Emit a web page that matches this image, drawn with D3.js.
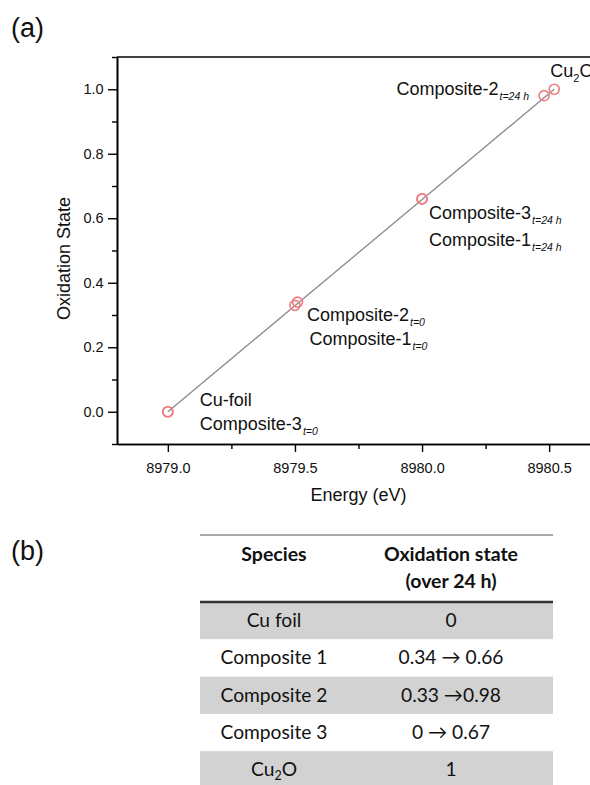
<!DOCTYPE html>
<html>
<head>
<meta charset="utf-8">
<script src="https://cdn.jsdelivr.net/npm/d3@7"></script>
<style>
  body { margin: 0; background: #fff; }
  svg { display: block; }
</style>
</head>
<body>
<div class="chart"></div>
<script>
// Points on the calibration line (energy vs. oxidation state)
var pointNames = ["Cu-foil", "Composite-3 t=0", "Composite-2 t=0", "Composite-1 t=0",
    "Composite-3 t=24 h", "Composite-1 t=24 h", "Composite-2 t=24 h", "Cu2O"];
var energies = [8979.0, 8979.0, 8979.5, 8979.51, 8980.0, 8980.0, 8980.48, 8980.52];
var oxStates = [0.0, 0.0, 0.33, 0.34, 0.66, 0.66, 0.98, 1.0];

// Linear fit drawn through the points
var fitEnergy = [8979.0, 8980.52];
var fitState = [0.0, 1.0];

// Axis ticks
var xMajorTicks = [8979.0, 8979.5, 8980.0, 8980.5];
var xMinorTicks = [8979.25, 8979.75, 8980.25];
var yMajorTicks = [0.0, 0.2, 0.4, 0.6, 0.8, 1.0];
var yMinorTicks = [-0.1, 0.1, 0.3, 0.5, 0.7, 0.9, 1.1];

// Table (b)
var tableHeader = [["Species"], ["Oxidation state", "(over 24 h)"]];
var tableSpecies = ["Cu foil", "Composite 1", "Composite 2", "Composite 3", "Cu|2|O"];
var tableStates = ["0", "0.34 \u2192 0.66", "0.33 \u21920.98", "0 \u2192 0.67", "1"];

var width = 590, height = 785;
var svg = d3.select(".chart").append("svg").attr("width", width).attr("height", height);

var chartFont = "'Liberation Sans', Arial, sans-serif";
var tableFont = "Lato, 'Open Sans', sans-serif";

// Plot area; the right side runs past the page edge like the original
var plot = {left: 117, top: 57, right: 600, bottom: 444};
var x = d3.scaleLinear().domain([8978.8, 8980.7]).range([plot.left, plot.right]);
var y = d3.scaleLinear().domain([-0.1, 1.1]).range([plot.bottom, plot.top]);

svg.append("text").attr("x", 11).attr("y", 37).attr("font-family", chartFont)
    .attr("font-size", "27px").attr("fill", "#111").text("(a)");
svg.append("text").attr("x", 11).attr("y", 560).attr("font-family", chartFont)
    .attr("font-size", "27px").attr("fill", "#111").text("(b)");

// Axes
var xAxis = d3.axisBottom(x).tickValues(xMajorTicks).tickFormat(d3.format(".1f")).tickSize(8).tickSizeOuter(0);
var xMinor = d3.axisBottom(x).tickValues(xMinorTicks).tickFormat("").tickSize(5).tickSizeOuter(0);
var yAxis = d3.axisLeft(y).tickValues(yMajorTicks).tickFormat(d3.format(".1f")).tickSize(9).tickSizeOuter(0);
var yMinor = d3.axisLeft(y).tickValues(yMinorTicks).tickFormat("").tickSize(5).tickSizeOuter(0);

function styleAxis(g) {
    g.selectAll("path").attr("stroke", "#000").attr("stroke-width", 1.6);
    g.selectAll("line").attr("stroke", "#000").attr("stroke-width", 1.4);
    g.selectAll("text").attr("font-family", chartFont).attr("font-size", "14.5px").attr("fill", "#111");
}

svg.append("g").attr("transform", "translate(0," + plot.bottom + ")").call(xMinor).call(styleAxis);
svg.append("g").attr("transform", "translate(0," + plot.bottom + ")").call(xAxis).call(styleAxis)
    .selectAll("text").attr("dy", "1.25em");
svg.append("g").attr("transform", "translate(" + plot.left + ",0)").call(yMinor).call(styleAxis);
svg.append("g").attr("transform", "translate(" + plot.left + ",0)").call(yAxis).call(styleAxis)
    .selectAll("text").attr("dx", "-0.1em");

// top frame line
svg.append("line").attr("x1", plot.left).attr("y1", plot.top).attr("x2", plot.right).attr("y2", plot.top)
    .attr("stroke", "#000").attr("stroke-width", 1.6);

svg.append("text").attr("x", (plot.left + plot.right) / 2).attr("y", 501)
    .attr("text-anchor", "middle").attr("font-family", chartFont).attr("font-size", "18px")
    .attr("fill", "#111").text("Energy (eV)");
svg.append("text").attr("transform", "translate(70," + ((plot.top + plot.bottom) / 2 + 8) + ") rotate(-90)")
    .attr("text-anchor", "middle").attr("font-family", chartFont).attr("font-size", "18px")
    .attr("fill", "#111").text("Oxidation State");

// Fit line
svg.append("line")
    .attr("x1", x(fitEnergy[0])).attr("y1", y(fitState[0]))
    .attr("x2", x(fitEnergy[1])).attr("y2", y(fitState[1]))
    .attr("stroke", "#8a8a8a").attr("stroke-width", 1.3);

// Points
svg.selectAll("circle.pt").data(energies).enter().append("circle").attr("class", "pt")
    .attr("cx", function(d) { return x(d); })
    .attr("cy", function(d, i) { return y(oxStates[i]); })
    .attr("r", 5).attr("fill", "none").attr("stroke", "#ef7f84").attr("stroke-width", 1.7);

// Point labels: [point index, main text, subscript, dx, dy, anchor]
var labels = [
    [0, "Cu-foil", "", 32, -6, "start"],
    [1, "Composite-3", "t=0", 32, 18, "start"],
    [2, "Composite-2", "t=0", 12, 16, "start"],
    [3, "Composite-1", "t=0", 12, 43, "start"],
    [4, "Composite-3", "t=24 h", 7, 20, "start"],
    [5, "Composite-1", "t=24 h", 7, 47, "start"],
    [6, "Composite-2", "t=24 h", -15, -1, "end"]
];
labels.forEach(function(l) {
    var t = svg.append("text")
        .attr("x", x(energies[l[0]]) + l[3]).attr("y", y(oxStates[l[0]]) + l[4])
        .attr("text-anchor", l[5]).attr("font-family", chartFont).attr("font-size", "18px")
        .attr("fill", "#111");
    t.append("tspan").text(l[1]);
    if (l[2]) {
        t.append("tspan").attr("dy", 5).attr("dx", 1).attr("font-size", "10.5px")
            .attr("font-style", "italic").text(l[2]);
    }
});
// Cu2O label
var cu = svg.append("text").attr("x", x(energies[7]) - 4).attr("y", y(oxStates[7]) - 12)
    .attr("font-family", chartFont).attr("font-size", "18px").attr("fill", "#111");
cu.append("tspan").text("Cu");
cu.append("tspan").attr("dy", 5).attr("font-size", "11px").text("2");
cu.append("tspan").attr("dy", -5).text("O");

// Table (b)
var tbl = {left: 200, right: 553, top: 535, headBottom: 602, rowH: 37.3};
var colX = [274, 451];

svg.append("line").attr("x1", tbl.left).attr("x2", tbl.right).attr("y1", tbl.top).attr("y2", tbl.top)
    .attr("stroke", "#8c8c8c").attr("stroke-width", 1.3);

var rows = svg.selectAll("g.row").data(tableSpecies).enter().append("g").attr("class", "row")
    .attr("transform", function(d, i) { return "translate(0," + (tbl.headBottom + i * tbl.rowH) + ")"; });
rows.append("rect").attr("x", tbl.left).attr("width", tbl.right - tbl.left).attr("height", tbl.rowH)
    .attr("fill", function(d, i) { return i % 2 === 0 ? "#d2d2d2" : "#fff"; });

rows.append("text").attr("x", colX[0]).attr("y", 25).attr("text-anchor", "middle")
    .attr("font-family", tableFont).attr("font-size", "19.2px").attr("fill", "#111")
    .each(function(d) {
        var parts = d.split("|");
        var t = d3.select(this);
        t.append("tspan").text(parts[0]);
        if (parts.length > 1) {
            t.append("tspan").attr("dy", 4).attr("font-size", "12.5px").text(parts[1]);
            t.append("tspan").attr("dy", -4).text(parts[2]);
        }
    });
rows.append("text").attr("x", colX[1]).attr("y", 25).attr("text-anchor", "middle")
    .attr("font-family", tableFont).attr("font-size", "19.2px").attr("fill", "#111")
    .text(function(d, i) { return tableStates[i]; });

svg.append("line").attr("x1", tbl.left).attr("x2", tbl.right).attr("y1", tbl.headBottom).attr("y2", tbl.headBottom)
    .attr("stroke", "#333").attr("stroke-width", 2.5);

tableHeader.forEach(function(lines, c) {
    lines.forEach(function(s, k) {
        svg.append("text").attr("x", colX[c]).attr("y", 561 + k * 27).attr("text-anchor", "middle")
            .attr("font-family", tableFont).attr("font-weight", "bold").attr("font-size", "19.5px")
            .attr("fill", "#111").text(s);
    });
});
</script>
</body>
</html>
